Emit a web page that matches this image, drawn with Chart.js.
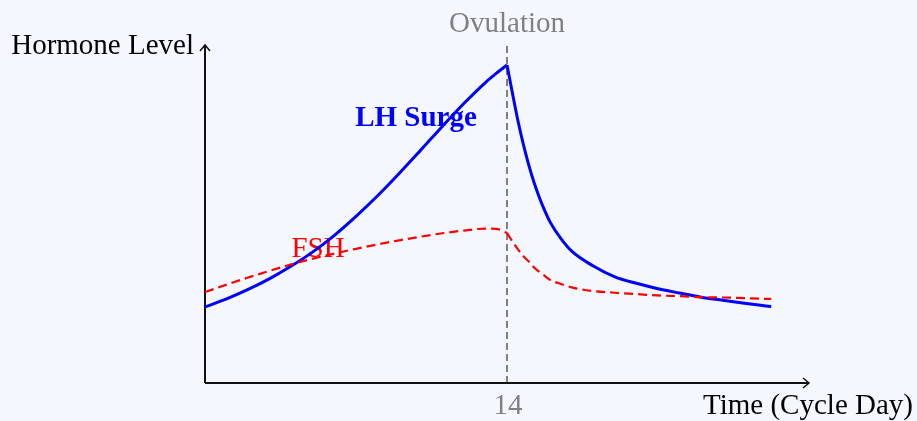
<!DOCTYPE html>
<html>
<head>
<meta charset="utf-8">
<script src="https://cdn.jsdelivr.net/npm/chart.js@4"></script>
<style>
  html, body { margin: 0; padding: 0; background: #f4f8fe; }
  #wrap { width: 917px; height: 421px; }
</style>
</head>
<body>
<div id="wrap"><canvas id="cycleChart" width="917" height="421"></canvas></div>
<script>
// cycle days sampled (denser around the surge)
var days = [0, 1, 2, 3, 4, 5, 6, 7, 8, 9, 10, 11, 12, 13, 13.5, 14, 14.25, 14.5, 14.75,
            15, 15.25, 15.5, 15.75, 16, 16.5, 17, 18, 19, 20, 21, 22, 23, 24, 25, 26, 26.25];
var lhLevels = [2.25, 2.49, 2.77, 3.09, 3.46, 3.88, 4.37, 4.93, 5.54, 6.20, 6.89, 7.59, 8.27, 8.89, 9.16, 9.41, 8.58, 7.78, 7.08,
                6.47, 5.94, 5.49, 5.10, 4.76, 4.27, 3.90, 3.46, 3.14, 2.95, 2.79, 2.66, 2.54, 2.45, 2.36, 2.28, 2.26];
var fshLevels = [2.69, 2.91, 3.12, 3.32, 3.51, 3.68, 3.83, 3.97, 4.10, 4.22, 4.33, 4.43, 4.51, 4.57, 4.56, 4.44, 4.19, 3.96, 3.76,
                 3.60, 3.42, 3.29, 3.17, 3.05, 2.93, 2.83, 2.72, 2.67, 2.63, 2.59, 2.57, 2.54, 2.53, 2.51, 2.49, 2.49];
var xTicks = [14];
var ovulationDay = 14;

function toPoints(xs, ys, from, to) {
  var pts = [];
  for (var i = from; i <= to; i++) {
    pts.push({ x: xs[i], y: ys[i] });
  }
  return pts;
}

// curves have a corner at ovulation, so each one is drawn as two smooth pieces
var cut = days.indexOf(ovulationDay);
var last = days.length - 1;

var serif = '"Liberation Serif", "DejaVu Serif", serif';

// axes with arrows, ovulation line and text labels
var decorations = {
  id: 'decorations',
  beforeDatasetsDraw: function(chart) {
    var ctx = chart.ctx;
    var xs = chart.scales.x, ys = chart.scales.y;
    var x0 = xs.getPixelForValue(0), y0 = ys.getPixelForValue(0);
    var xEnd = xs.getPixelForValue(28), yEnd = ys.getPixelForValue(10);
    var xo = xs.getPixelForValue(ovulationDay);

    ctx.save();
    // ovulation dashed line
    ctx.strokeStyle = '#808080';
    ctx.lineWidth = 2;
    ctx.setLineDash([7, 4]);
    ctx.beginPath();
    ctx.moveTo(xo, y0);
    ctx.lineTo(xo, yEnd - 2);
    ctx.stroke();
    ctx.setLineDash([]);

    // axes
    ctx.strokeStyle = '#111';
    ctx.lineWidth = 2;
    ctx.beginPath();
    ctx.moveTo(x0, y0);
    ctx.lineTo(xEnd, y0);
    ctx.moveTo(x0, y0);
    ctx.lineTo(x0, yEnd);
    ctx.stroke();
    // arrow heads
    ctx.lineWidth = 1.5;
    ctx.beginPath();
    ctx.moveTo(xEnd - 6, y0 - 5);
    ctx.lineTo(xEnd, y0);
    ctx.lineTo(xEnd - 6, y0 + 5);
    ctx.moveTo(x0 - 5, yEnd + 6);
    ctx.lineTo(x0, yEnd);
    ctx.lineTo(x0 + 5, yEnd + 6);
    ctx.stroke();

    // texts
    ctx.textBaseline = 'alphabetic';
    ctx.font = '29px ' + serif;
    ctx.fillStyle = '#000';
    ctx.textAlign = 'right';
    ctx.fillText('Hormone Level', x0 - 11, yEnd + 9);
    ctx.textAlign = 'center';
    ctx.fillText('Time (Cycle Day)', xEnd - 1, y0 + 31);

    ctx.fillStyle = '#808080';
    xTicks.forEach(function(t) {
      ctx.fillText(String(t), xs.getPixelForValue(t) + 1, y0 + 31);
    });
    ctx.fillText('Ovulation', xo, 32);

    ctx.fillStyle = '#ff0000';
    ctx.fillText('FSH', xs.getPixelForValue(5.24), ys.getPixelForValue(3.73));

    ctx.fillStyle = '#0000ff';
    ctx.font = 'bold 29px ' + serif;
    ctx.fillText('LH Surge', xs.getPixelForValue(9.78), ys.getPixelForValue(7.6));
    ctx.restore();
  }
};

var fshStyle = {
  borderColor: '#ff0000',
  borderWidth: 2.2,
  borderDash: [9, 5],
  pointRadius: 0,
  cubicInterpolationMode: 'monotone',
  fill: false
};
var lhStyle = {
  borderColor: '#0000ff',
  borderWidth: 3,
  pointRadius: 0,
  cubicInterpolationMode: 'monotone',
  fill: false
};

var chart = new Chart(document.getElementById('cycleChart'), {
  type: 'line',
  data: {
    datasets: [
      Object.assign({ label: 'FSH', data: toPoints(days, fshLevels, 0, cut) }, fshStyle),
      Object.assign({ label: 'FSH (after)', data: toPoints(days, fshLevels, cut, last) }, fshStyle),
      Object.assign({ label: 'LH', data: toPoints(days, lhLevels, 0, cut) }, lhStyle),
      Object.assign({ label: 'LH (after)', data: toPoints(days, lhLevels, cut, last) }, lhStyle)
    ]
  },
  options: {
    responsive: false,
    animation: false,
    layout: { padding: { left: 205, right: 108, top: 45, bottom: 38 } },
    scales: {
      x: { type: 'linear', min: 0, max: 28, display: false },
      y: { min: 0, max: 10, display: false }
    },
    plugins: {
      legend: { display: false },
      tooltip: { enabled: false }
    }
  },
  plugins: [decorations]
});
</script>
</body>
</html>
